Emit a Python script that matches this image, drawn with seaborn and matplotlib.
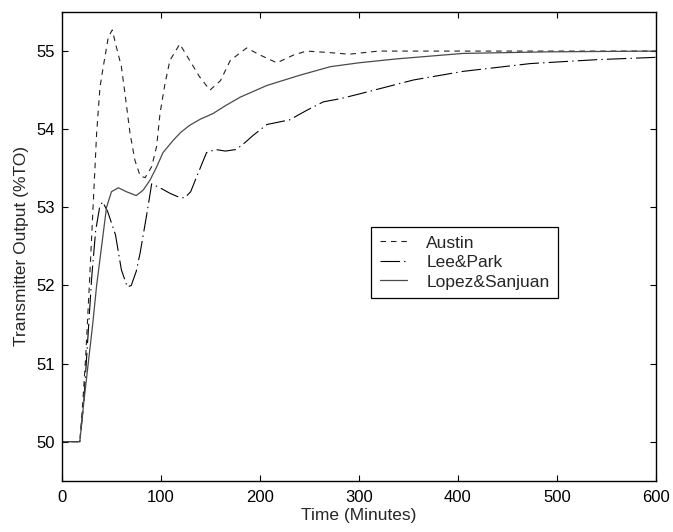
import matplotlib
matplotlib.use('Agg')
import matplotlib.pyplot as plt
import seaborn as sns
import pandas as pd

# values
austin_t = [0, 18, 21, 24, 28, 31, 35, 38.4, 41.7, 46.8, 50.8, 55, 60, 63.6, 68.7, 73.7,
            79, 84, 90.6, 95.6, 99, 104, 109, 119, 129, 139, 149.5, 160, 170, 186.5,
            200, 217, 234, 247, 271, 290, 320, 400, 500, 600]
austin_y = [50, 50, 50.5, 51.1, 52.1, 52.9, 53.95, 54.54, 54.8, 55.18, 55.27, 55.05, 54.8,
            54.46, 53.95, 53.6, 53.4, 53.38, 53.52, 53.78, 54.2, 54.58, 54.88, 55.09, 54.88,
            54.67, 54.5, 54.62, 54.88, 55.04, 54.95, 54.85, 54.95, 55.0, 54.98, 54.96,
            55.0, 55.0, 55.0, 55.0]

lee_t = [0, 18, 22, 26, 30, 34, 38, 41, 46, 50, 54, 60, 66, 70, 75, 79, 85.5, 90.6,
         99, 109, 118, 124, 130, 136, 146, 155, 165, 176, 185, 193, 207, 230, 247, 264,
         281, 300, 355, 405, 473, 540, 600]
lee_y = [50, 50, 50.5, 51.3, 52.1, 52.7, 53.0, 53.07, 52.95, 52.8, 52.65, 52.2, 51.98,
         52.0, 52.18, 52.42, 52.9, 53.3, 53.25, 53.18, 53.13, 53.12, 53.2, 53.39, 53.7,
         53.74, 53.72, 53.74, 53.83, 53.92, 54.06, 54.12, 54.24, 54.35, 54.39, 54.45,
         54.63, 54.74, 54.84, 54.89, 54.92]

lopez_t = [0, 18, 22, 26.5, 31, 35, 40, 45, 50, 57, 65, 75, 82, 89, 95, 102, 112.5, 120,
           129, 140, 152.5, 165, 180, 207, 240, 271, 300, 338, 405, 490, 600]
lopez_y = [50, 50, 50.5, 51, 51.5, 52, 52.5, 53.0, 53.2, 53.25, 53.2, 53.15, 53.22, 53.35,
           53.5, 53.7, 53.86, 53.96, 54.05, 54.13, 54.2, 54.3, 54.41, 54.56, 54.69, 54.8,
           54.85, 54.9, 54.97, 54.99, 55.0]

x_ticks = [0, 100, 200, 300, 400, 500, 600]
y_ticks = [50, 51, 52, 53, 54, 55]

sns.set_theme(style="ticks")
plt.rcParams['font.family'] = ['Liberation Sans', 'DejaVu Sans']
plt.rcParams['lines.scale_dashes'] = False

fig = plt.figure(figsize=(6.73, 5.32), dpi=100)
ax = fig.add_axes([0.0921, 0.0964, 0.8826, 0.8810])

sns.lineplot(x=austin_t, y=austin_y, ax=ax, color='#222222', lw=0.8, sort=False,
             label='Austin')
ax.lines[-1].set_dashes((4, 3.5))
sns.lineplot(x=lee_t, y=lee_y, ax=ax, color='black', lw=0.8, sort=False,
             label='Lee&Park')
ax.lines[-1].set_dashes((14, 3, 1, 3))
sns.lineplot(x=lopez_t, y=lopez_y, ax=ax, color='#4a4a4a', lw=0.9, sort=False,
             label='Lopez&Sanjuan')

ax.set_xlim(0, 600)
ax.set_ylim(49.5, 55.5)
ax.set_xticks(x_ticks)
ax.set_yticks(y_ticks)
ax.tick_params(axis='both', direction='in', length=4, width=0.8, top=True, right=True,
               labelsize=12, colors='black')
ax.tick_params(axis='x', pad=7)
ax.tick_params(axis='y', pad=5)
for s in ax.spines.values():
    s.set_visible(True)
    s.set_linewidth(1.0)
    s.set_color('black')
ax.set_xlabel('Time (Minutes)', fontsize=12.5, labelpad=2)
ax.set_ylabel('Transmitter Output (%TO)', fontsize=12.5, labelpad=5)

leg = ax.legend(loc='upper left', bbox_to_anchor=(0.52, 0.542), fontsize=12.5,
                frameon=True, fancybox=False, edgecolor='black', framealpha=1,
                handlelength=1.6, borderpad=0.5, labelspacing=0.25, handletextpad=1.1,
                borderaxespad=0)
leg.get_frame().set_linewidth(0.9)

fig.savefig('out.png', dpi=100)
